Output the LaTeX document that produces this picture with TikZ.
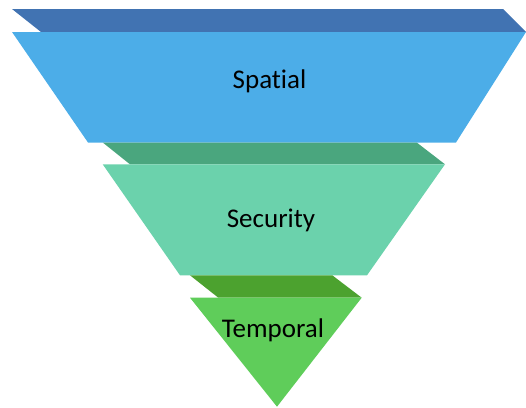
\documentclass[tikz,border=0pt]{standalone}
\usepackage{fontspec}
\setmainfont{Carlito}[Ligatures={NoCommon}]
\definecolor{bandA}{RGB}{65,115,178}
\definecolor{faceA}{RGB}{76,173,232}
\definecolor{bandB}{RGB}{74,166,126}
\definecolor{faceB}{RGB}{107,210,172}
\definecolor{bandC}{RGB}{76,162,47}
\definecolor{faceC}{RGB}{95,205,90}
\tikzset{label text/.style={anchor=base,font=\fontsize{27}{31}\selectfont,text=black,inner sep=0pt}}
\begin{document}
\begin{tikzpicture}[x=1pt,y=-1pt]
\useasboundingbox (0,0) rectangle (526,407);
% top level
\fill[bandA] (12,9) -- (503,9) -- (526,32) -- (41,32) -- cycle;
\fill[faceA] (12,32) -- (526,32) -- (456,142.5) -- (88,142.5) -- cycle;
% middle level
\fill[bandB] (102.7,142.5) -- (416.7,142.5) -- (445,164.3) -- (130,164.3) -- cycle;
\fill[faceB] (102.7,164.3) -- (445,164.3) -- (367,275.3) -- (180,275.3) -- cycle;
% bottom level
\fill[bandC] (190,275.3) -- (332.3,275.3) -- (361.7,297.7) -- (218.3,297.7) -- cycle;
\fill[faceC] (190,297.7) -- (361.7,297.7) -- (277,406.7) -- cycle;
% labels
\node[label text] (spatial) at (269.5,88) {Spatial};
\node[label text] (security) at (271,227) {Security};
\node[label text] (temporal) at (273,337) {Temporal};
\end{tikzpicture}
\end{document}
